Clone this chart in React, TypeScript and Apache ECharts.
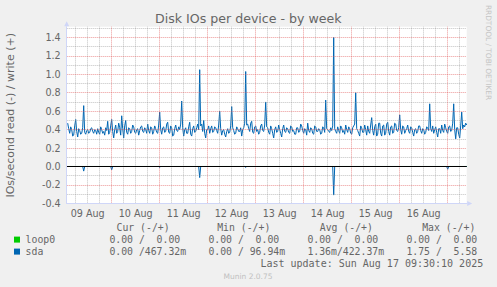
import React, { useEffect, useRef } from 'react';
import * as echarts from 'echarts';

// Samples every 30 min, first one 02:00 on 09 Aug (hours counted from 09 Aug 00:00)
const startHour = 2;
const stepHours = 0.5;

// sda write IOs/s (+)
const sdaWrite = [
  0.47, 0.41, 0.36, 0.43, 0.40, 0.33, 0.34, 0.44, 0.51, 0.38, 0.32, 0.41, 0.39, 0.35, 0.36, 0.42, 0.66, 0.37, 0.35, 0.39,
  0.40, 0.36, 0.37, 0.41, 0.42, 0.38, 0.36, 0.40, 0.39, 0.35, 0.41, 0.37, 0.35, 0.43, 0.40, 0.36, 0.38, 0.34, 0.42, 0.39,
  0.49, 0.35, 0.37, 0.44, 0.51, 0.38, 0.31, 0.40, 0.45, 0.36, 0.38, 0.47, 0.42, 0.34, 0.55, 0.41, 0.31, 0.44, 0.50, 0.37,
  0.35, 0.42, 0.41, 0.36, 0.38, 0.45, 0.43, 0.37, 0.36, 0.40, 0.41, 0.34, 0.39, 0.43, 0.44, 0.38, 0.37, 0.42, 0.40, 0.36,
  0.46, 0.39, 0.36, 0.43, 0.42, 0.35, 0.38, 0.44, 0.41, 0.37, 0.36, 0.45, 0.59, 0.40, 0.35, 0.42, 0.43, 0.37, 0.38, 0.46,
  0.48, 0.37, 0.36, 0.44, 0.42, 0.33, 0.34, 0.41, 0.45, 0.39, 0.38, 0.43, 0.40, 0.46, 0.71, 0.42, 0.33, 0.40, 0.42, 0.36,
  0.36, 0.43, 0.48, 0.35, 0.33, 0.41, 0.44, 0.37, 0.38, 0.42, 0.46, 0.40, 1.05, 0.44, 0.46, 0.38, 0.50, 0.36, 0.31, 0.40,
  0.40, 0.44, 0.36, 0.41, 0.44, 0.37, 0.38, 0.43, 0.42, 0.39, 0.36, 0.45, 0.60, 0.41, 0.34, 0.39, 0.40, 0.35, 0.32, 0.38,
  0.41, 0.36, 0.37, 0.44, 0.65, 0.42, 0.39, 0.35, 0.36, 0.43, 0.41, 0.38, 0.38, 0.42, 0.33, 0.40, 0.42, 0.47, 1.03, 0.45,
  0.46, 0.41, 0.38, 0.47, 0.49, 0.37, 0.36, 0.43, 0.44, 0.38, 0.40, 0.35, 0.37, 0.44, 0.46, 0.39, 0.38, 0.45, 0.70, 0.43,
  0.42, 0.37, 0.35, 0.44, 0.41, 0.36, 0.31, 0.40, 0.43, 0.37, 0.38, 0.45, 0.40, 0.36, 0.32, 0.41, 0.45, 0.38, 0.37, 0.42,
  0.41, 0.37, 0.36, 0.44, 0.43, 0.38, 0.39, 0.35, 0.35, 0.42, 0.42, 0.37, 0.38, 0.46, 0.44, 0.39, 0.36, 0.41, 0.40, 0.34,
  0.47, 0.39, 0.37, 0.42, 0.41, 0.36, 0.35, 0.44, 0.43, 0.38, 0.38, 0.41, 0.40, 0.35, 0.36, 0.43, 0.42, 0.37, 0.72, 0.41,
  0.40, 0.38, 0.37, 0.42, 0.39, 0.44, 1.40, 0.41, 0.38, 0.36, 0.43, 0.39, 0.36, 0.44, 0.42, 0.37, 0.39, 0.35, 0.45, 0.40,
  0.37, 0.43, 0.41, 0.36, 0.35, 0.42, 0.44, 0.46, 0.80, 0.41, 0.39, 0.36, 0.33, 0.44, 0.42, 0.37, 0.37, 0.45, 0.40, 0.34,
  0.44, 0.38, 0.36, 0.45, 0.53, 0.39, 0.34, 0.43, 0.46, 0.33, 0.35, 0.47, 0.47, 0.36, 0.33, 0.44, 0.45, 0.34, 0.36, 0.46,
  0.48, 0.38, 0.34, 0.43, 0.44, 0.36, 0.37, 0.47, 0.46, 0.39, 0.38, 0.42, 0.56, 0.40, 0.35, 0.44, 0.43, 0.36, 0.39, 0.41,
  0.45, 0.38, 0.36, 0.43, 0.42, 0.37, 0.33, 0.40, 0.41, 0.36, 0.38, 0.44, 0.44, 0.39, 0.36, 0.41, 0.40, 0.35, 0.37, 0.43,
  0.42, 0.39, 0.68, 0.41, 0.38, 0.44, 0.36, 0.40, 0.43, 0.37, 0.32, 0.41, 0.41, 0.36, 0.45, 0.39, 0.37, 0.46, 0.42, 0.38,
  0.36, 0.43, 0.44, 0.38, 0.39, 0.47, 0.68, 0.40, 0.30, 0.42, 0.42, 0.35, 0.31, 0.44, 0.59, 0.41, 0.45, 0.43, 0.47, 0.45,
];

// sda read IOs/s (-), plotted below zero
const sdaRead = [
  0, 0, 0, 0, 0, 0, 0, 0, 0, 0, 0, 0, 0, 0, 0, 0, 0.05, 0, 0, 0,
  0, 0, 0, 0, 0, 0, 0, 0, 0, 0, 0, 0, 0, 0, 0, 0, 0, 0, 0, 0,
  0, 0, 0, 0, 0.035, 0, 0, 0, 0, 0, 0, 0, 0, 0, 0, 0, 0, 0, 0, 0,
  0, 0, 0, 0, 0, 0, 0, 0, 0, 0, 0, 0, 0, 0, 0, 0, 0, 0, 0, 0,
  0, 0, 0, 0, 0, 0, 0, 0, 0, 0, 0, 0, 0.01, 0, 0, 0, 0, 0, 0, 0,
  0, 0, 0, 0, 0, 0, 0, 0, 0, 0, 0, 0, 0, 0, 0, 0, 0, 0, 0, 0,
  0, 0, 0, 0, 0, 0, 0, 0, 0, 0, 0, 0, 0.12, 0, 0, 0, 0, 0, 0, 0,
  0, 0, 0, 0, 0, 0, 0, 0, 0, 0, 0, 0, 0, 0, 0, 0, 0, 0, 0, 0,
  0, 0, 0, 0, 0, 0, 0, 0, 0, 0, 0, 0, 0, 0, 0, 0, 0, 0, 0.01, 0,
  0, 0, 0, 0, 0, 0, 0, 0, 0, 0, 0, 0, 0, 0, 0, 0, 0, 0, 0, 0,
  0, 0, 0, 0, 0, 0, 0, 0, 0, 0, 0, 0, 0, 0, 0, 0, 0, 0, 0, 0,
  0, 0, 0, 0, 0, 0, 0, 0, 0, 0, 0, 0, 0, 0, 0, 0, 0, 0, 0, 0,
  0, 0, 0, 0, 0, 0, 0, 0, 0, 0, 0, 0, 0, 0, 0, 0, 0, 0, 0, 0,
  0, 0, 0, 0, 0, 0, 0.31, 0, 0, 0, 0, 0, 0, 0, 0, 0, 0, 0, 0, 0,
  0, 0, 0, 0, 0, 0, 0, 0, 0, 0, 0, 0, 0, 0, 0, 0, 0, 0, 0, 0,
  0, 0, 0, 0, 0, 0, 0, 0, 0, 0, 0, 0, 0, 0, 0, 0, 0, 0, 0, 0,
  0, 0, 0, 0, 0, 0, 0, 0, 0, 0, 0, 0, 0, 0, 0, 0, 0, 0, 0, 0,
  0, 0, 0, 0, 0, 0, 0, 0, 0, 0, 0, 0, 0, 0, 0, 0, 0, 0, 0, 0,
  0, 0, 0, 0, 0, 0, 0, 0, 0, 0, 0, 0, 0, 0, 0, 0, 0, 0, 0, 0,
  0.03, 0, 0, 0, 0, 0, 0, 0, 0, 0, 0, 0, 0, 0, 0, 0, 0, 0, 0, 0,
];

// loop0: idle all week (read and write both zero)
const loop0Write = [
  0, 0, 0, 0, 0, 0, 0, 0, 0, 0, 0, 0, 0, 0, 0, 0, 0, 0, 0, 0,
  0, 0, 0, 0, 0, 0, 0, 0, 0, 0, 0, 0, 0, 0, 0, 0, 0, 0, 0, 0,
  0, 0, 0, 0, 0, 0, 0, 0, 0, 0, 0, 0, 0, 0, 0, 0, 0, 0, 0, 0,
  0, 0, 0, 0, 0, 0, 0, 0, 0, 0, 0, 0, 0, 0, 0, 0, 0, 0, 0, 0,
  0, 0, 0, 0, 0, 0, 0, 0, 0, 0, 0, 0, 0, 0, 0, 0, 0, 0, 0, 0,
  0, 0, 0, 0, 0, 0, 0, 0, 0, 0, 0, 0, 0, 0, 0, 0, 0, 0, 0, 0,
  0, 0, 0, 0, 0, 0, 0, 0, 0, 0, 0, 0, 0, 0, 0, 0, 0, 0, 0, 0,
  0, 0, 0, 0, 0, 0, 0, 0, 0, 0, 0, 0, 0, 0, 0, 0, 0, 0, 0, 0,
  0, 0, 0, 0, 0, 0, 0, 0, 0, 0, 0, 0, 0, 0, 0, 0, 0, 0, 0, 0,
  0, 0, 0, 0, 0, 0, 0, 0, 0, 0, 0, 0, 0, 0, 0, 0, 0, 0, 0, 0,
  0, 0, 0, 0, 0, 0, 0, 0, 0, 0, 0, 0, 0, 0, 0, 0, 0, 0, 0, 0,
  0, 0, 0, 0, 0, 0, 0, 0, 0, 0, 0, 0, 0, 0, 0, 0, 0, 0, 0, 0,
  0, 0, 0, 0, 0, 0, 0, 0, 0, 0, 0, 0, 0, 0, 0, 0, 0, 0, 0, 0,
  0, 0, 0, 0, 0, 0, 0, 0, 0, 0, 0, 0, 0, 0, 0, 0, 0, 0, 0, 0,
  0, 0, 0, 0, 0, 0, 0, 0, 0, 0, 0, 0, 0, 0, 0, 0, 0, 0, 0, 0,
  0, 0, 0, 0, 0, 0, 0, 0, 0, 0, 0, 0, 0, 0, 0, 0, 0, 0, 0, 0,
  0, 0, 0, 0, 0, 0, 0, 0, 0, 0, 0, 0, 0, 0, 0, 0, 0, 0, 0, 0,
  0, 0, 0, 0, 0, 0, 0, 0, 0, 0, 0, 0, 0, 0, 0, 0, 0, 0, 0, 0,
  0, 0, 0, 0, 0, 0, 0, 0, 0, 0, 0, 0, 0, 0, 0, 0, 0, 0, 0, 0,
  0, 0, 0, 0, 0, 0, 0, 0, 0, 0, 0, 0, 0, 0, 0, 0, 0, 0, 0, 0,
];
const loop0Read = loop0Write;

const dayLabelHours = [12, 36, 60, 84, 108, 132, 156, 180];
const dayLabels = ['09 Aug', '10 Aug', '11 Aug', '12 Aug', '13 Aug', '14 Aug', '15 Aug', '16 Aug'];

const legendNames = ['loop0', 'sda'];
const legendColors = ['#00CC00', '#0066B3'];
const statHeaders = ['Cur (-/+)', 'Min (-/+)', 'Avg (-/+)', 'Max (-/+)'];
const loop0Stats = ['0.00 /  0.00', '0.00 /  0.00', '0.00 /  0.00', '0.00 /  0.00'];
const sdaStats = ['0.00 /467.32m', '0.00 / 96.94m', '1.36m/422.37m', '1.75 /  5.58'];
const lastUpdate = 'Last update: Sun Aug 17 09:30:10 2025';
const version = 'Munin 2.0.75';

const FONT_COLOR = '#666666';
const AXIS_COLOR = '#CFD6F8';
const SANS = '"DejaVu Sans"';
const MONO = '"DejaVu Sans Mono"';

function pts(vals: number[], sign: number) {
  return vals.map((v, i) => [startHour + i * stepHours, sign * v]);
}

export default function App() {
  const ref = useRef<HTMLDivElement>(null);
  useEffect(() => {
    if (!ref.current) return;
    const chart = echarts.init(ref.current, null, { renderer: 'svg' });

    const minorStyle = { color: 'rgba(143,143,143,0.55)', width: 1, type: [1, 1] };
    const majorStyle = { color: 'rgba(224,80,80,0.6)', width: 1, type: [1, 1] };
    const gridLines: any[] = [];
    for (let h = 6; h <= 198; h += 6) {
      if (h % 24 !== 0) gridLines.push({ xAxis: h, lineStyle: minorStyle });
    }
    for (let k = -3; k <= 15; k += 2) gridLines.push({ yAxis: k / 10, lineStyle: minorStyle });
    for (let h = 24; h <= 192; h += 24) gridLines.push({ xAxis: h, lineStyle: majorStyle });
    for (let k = -2; k <= 14; k += 2) gridLines.push({ yAxis: k / 10, lineStyle: majorStyle });

    const lineSeries = (name: string, data: number[][], color: string, z: number) => ({
      name,
      type: 'line',
      data,
      z,
      showSymbol: false,
      symbol: 'none',
      silent: true,
      lineStyle: { color, width: 1 },
      emphasis: { disabled: true },
    });

    const txt = (text: string, x: number, y: number, size: number, family: string, fill: string, align: string, extra: any = {}) => ({
      type: 'text', x, y, ...extra,
      style: { text, fontSize: size, fontFamily: family, fill, align, verticalAlign: 'middle', textAlign: align, textVerticalAlign: 'middle' },
    });

    const graphics: any[] = [
      txt('Disk IOs per device - by week', 248.3, 18.9, 12.6, SANS, FONT_COLOR, 'center'),
      txt('IOs/second read (-) / write (+)', 10, 115.3, 11, SANS, FONT_COLOR, 'center', { rotation: Math.PI / 2 }),
      txt('RRDTOOL / TOBI OETIKER', 488, 52.5, 7.4, SANS, '#c4c4c4', 'center', { rotation: -Math.PI / 2 }),
      txt(version, 248, 276, 7.5, SANS, '#c0c0c0', 'center'),
      txt(lastUpdate, 483.2, 263.6, 10, MONO, FONT_COLOR, 'right'),
    ];
    const headerX = [116.5, 217.2, 319.8, 422.2];
    const colX = [109.4, 208.4, 307.4, 406.4];
    statHeaders.forEach((t, i) => graphics.push(txt(t, headerX[i], 227.3, 9.8, MONO, FONT_COLOR, 'left')));
    const rowsStats = [loop0Stats, sdaStats];
    const rowY = [239.4, 251.4];
    legendNames.forEach((n, r) => {
      graphics.push({
        type: 'rect', shape: { x: 14, y: rowY[r] - 2.8, width: 6, height: 6 },
        style: { fill: legendColors[r] },
      });
      graphics.push(txt(n, 25.6, rowY[r], 9.8, MONO, FONT_COLOR, 'left'));
      rowsStats[r].forEach((t, c) => graphics.push(txt(t, colX[c], rowY[r], 9.8, MONO, FONT_COLOR, 'left')));
    });

    const option: any = {
      animation: false,
      backgroundColor: '#F0F0F0',
      grid: {
        left: 66.7, right: 30.3, top: 26.72, bottom: 83.62,
        show: true, backgroundColor: '#FFFFFF', borderWidth: 0,
      },
      xAxis: {
        type: 'value', min: 1.5, max: 201.5, z: 10,
        axisLine: {
          show: true, onZero: false,
          lineStyle: { color: AXIS_COLOR, width: 1 },
          symbol: ['none', 'triangle'], symbolSize: [5, 5], symbolOffset: [0, 3],
        },
        axisTick: { show: false },
        splitLine: { show: false },
        axisLabel: {
          customValues: dayLabelHours,
          formatter: (v: number) => {
            const i = dayLabelHours.indexOf(Math.round(v));
            return i >= 0 ? dayLabels[i] : '';
          },
          color: FONT_COLOR, fontFamily: SANS, fontSize: 9.6, margin: 5,
        },
      },
      yAxis: {
        type: 'value', min: -0.4, max: 1.516, interval: 0.2, z: 10,
        axisLine: {
          show: true, onZero: false,
          lineStyle: { color: AXIS_COLOR, width: 1 },
          symbol: ['none', 'triangle'], symbolSize: [5, 5], symbolOffset: [0, 3],
        },
        axisTick: { show: false },
        splitLine: { show: false },
        axisLabel: {
          formatter: (v: number) => {
            if (v > 1.45) return '';
            if (Math.abs(v) < 1e-9) return '0.0';
            return v.toFixed(1);
          },
          color: FONT_COLOR, fontFamily: SANS, fontSize: 9.6, margin: 6,
        },
      },
      series: [
        {
          type: 'line', data: [], z: 1, silent: true,
          markLine: {
            silent: true, symbol: ['none', 'none'], label: { show: false },
            emphasis: { disabled: true }, animation: false,
            data: gridLines,
          },
        },
        lineSeries('loop0 write', pts(loop0Write, 1), '#00CC00', 2),
        lineSeries('loop0 read', pts(loop0Read, -1), '#00CC00', 2),
        lineSeries('sda write', pts(sdaWrite, 1), '#0066B3', 3),
        lineSeries('sda read', pts(sdaRead, -1), '#0066B3', 3),
        {
          type: 'line', data: [], z: 5, silent: true,
          markLine: {
            silent: true, symbol: ['none', 'none'], label: { show: false },
            emphasis: { disabled: true }, animation: false,
            data: [{ yAxis: 0, lineStyle: { color: '#000000', width: 1, type: 'solid' } }],
          },
        },
      ],
      graphic: graphics,
    };
    chart.setOption(option);
    return () => chart.dispose();
  }, []);

  return (
    <div
      ref={ref}
      style={{ position: 'absolute', left: 0, top: 0, width: 497, height: 287 }}
    />
  );
}
